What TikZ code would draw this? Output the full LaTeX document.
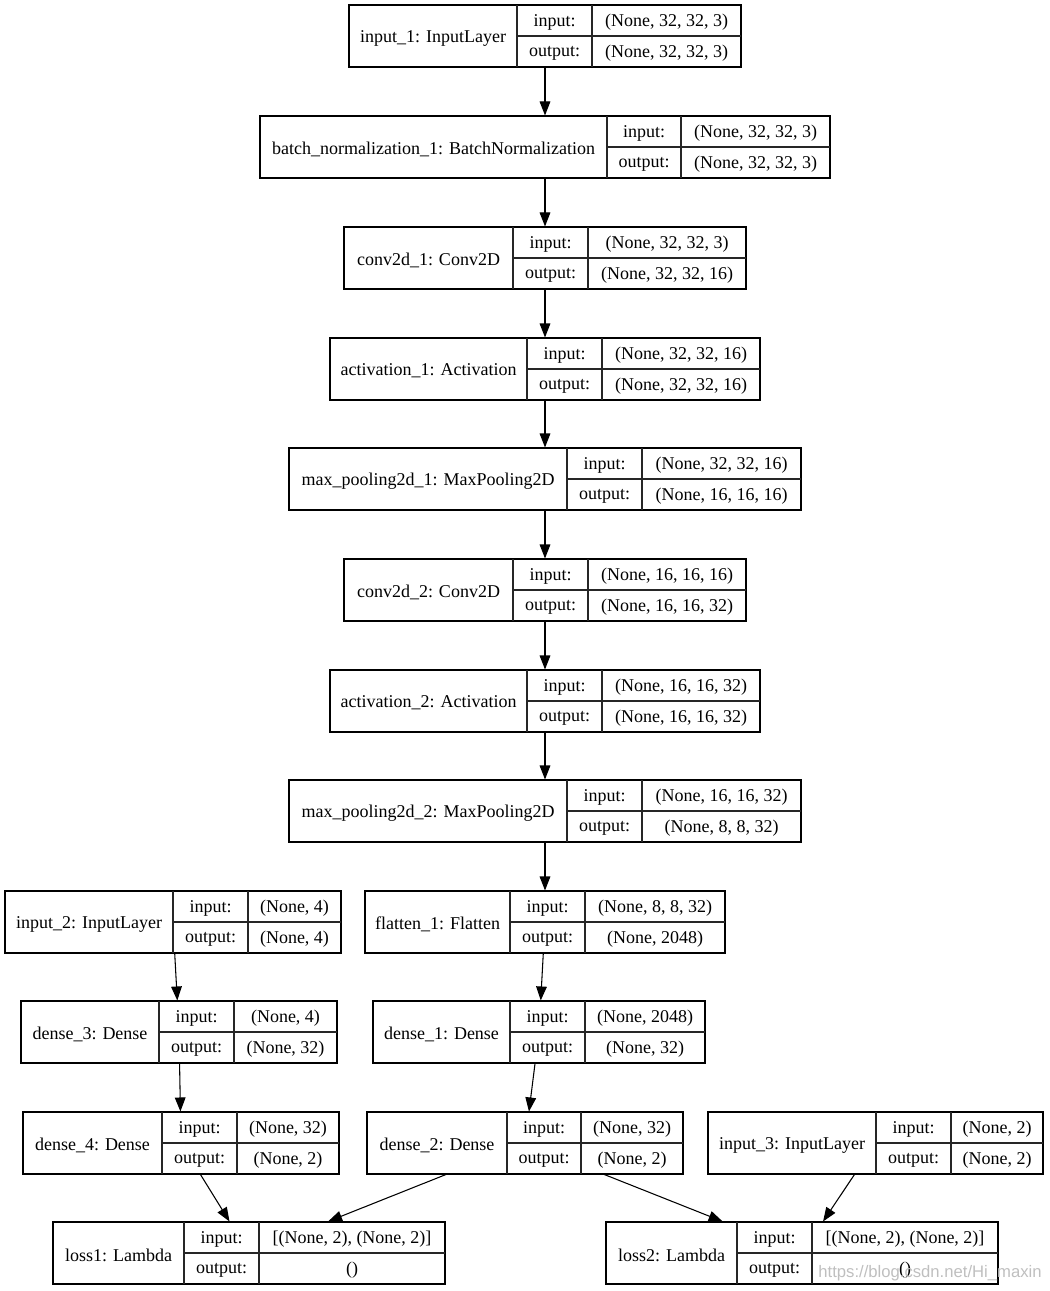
\documentclass[tikz,border=0pt]{standalone}
\usepackage{fontspec}
\setmainfont{Liberation Serif}
\newfontfamily\wmfont{Liberation Sans}
\usetikzlibrary{arrows.meta, fit}

% one Keras layer: name, left, top, first divider, second divider, right, label, input shape, output shape
\newcommand{\kerasLayer}[9]{%
    \node[layerbox, fit={({#2},{#3}) ({#6},{#3+62})}] (#1) {};
    \draw[cellline] ({#4},{#3}) -- ({#4},{#3+62});
    \draw[cellline] ({#5},{#3}) -- ({#5},{#3+62});
    \draw[cellline] ({#4},{#3+31}) -- ({#6},{#3+31});
    \node[txt] (#1-lbl) at ({(#2+#4)/2},{#3+33}) {#7};
    \node[txt] (#1-in) at ({(#4+#5)/2},{#3+17}) {input:};
    \node[txt] (#1-out) at ({(#4+#5)/2},{#3+48}) {output:};
    \node[txt] (#1-inv) at ({(#5+#6)/2},{#3+17}) {#8};
    \node[txt] (#1-outv) at ({(#5+#6)/2},{#3+48}) {#9};
}

\begin{document}
\begin{tikzpicture}[
        x=0.75pt, y=-0.75pt,
        layerbox/.style={draw, line width=0.8pt, inner sep=0pt},
        cellline/.style={line width=0.8pt, black!85},
        txt/.style={inner sep=0pt, font=\fontsize{13.5}{16}\selectfont},
        conn/.style={line width=0.8pt, -{Triangle[length=10.5pt, width=8pt]}},
        watermark/.style={inner sep=0pt, text=black!25, font=\wmfont\fontsize{12.5}{15}\selectfont}
    ]
        \useasboundingbox (0,0) rectangle (1049,1291);

        % Main column
        \kerasLayer{input1}{349}{5}{517}{592}{741}{input\_1: InputLayer}{(None, 32, 32, 3)}{(None, 32, 32, 3)}
        \kerasLayer{batchnorm}{260}{116}{607}{681}{830}{batch\_normalization\_1: BatchNormalization}{(None, 32, 32, 3)}{(None, 32, 32, 3)}
        \kerasLayer{conv1}{344}{227}{513}{588}{746}{conv2d\_1: Conv2D}{(None, 32, 32, 3)}{(None, 32, 32, 16)}
        \kerasLayer{act1}{330}{338}{527}{602}{760}{activation\_1: Activation}{(None, 32, 32, 16)}{(None, 32, 32, 16)}
        \kerasLayer{pool1}{289}{448}{567}{642}{801}{max\_pooling2d\_1: MaxPooling2D}{(None, 32, 32, 16)}{(None, 16, 16, 16)}
        \kerasLayer{conv2}{344}{559}{513}{588}{746}{conv2d\_2: Conv2D}{(None, 16, 16, 16)}{(None, 16, 16, 32)}
        \kerasLayer{act2}{330}{670}{527}{602}{760}{activation\_2: Activation}{(None, 16, 16, 32)}{(None, 16, 16, 32)}
        \kerasLayer{pool2}{289}{780}{567}{642}{801}{max\_pooling2d\_2: MaxPooling2D}{(None, 16, 16, 32)}{(None, 8, 8, 32)}
        \kerasLayer{flatten}{365}{891}{510}{585}{725}{flatten\_1: Flatten}{(None, 8, 8, 32)}{(None, 2048)}
        \kerasLayer{dense1}{373}{1001}{510}{585}{705}{dense\_1: Dense}{(None, 2048)}{(None, 32)}
        \kerasLayer{dense2}{367}{1112}{507}{581}{683}{dense\_2: Dense}{(None, 32)}{(None, 2)}

        % Second input
        \kerasLayer{input2}{5}{891}{173}{248}{341}{input\_2: InputLayer}{(None, 4)}{(None, 4)}
        \kerasLayer{dense3}{21}{1001}{159}{234}{337}{dense\_3: Dense}{(None, 4)}{(None, 32)}
        \kerasLayer{dense4}{23}{1112}{162}{237}{339}{dense\_4: Dense}{(None, 32)}{(None, 2)}

        % Third input
        \kerasLayer{input3}{708}{1112}{876}{951}{1043}{input\_3: InputLayer}{(None, 2)}{(None, 2)}

        % Losses
        \kerasLayer{loss1}{53}{1222}{184}{259}{445}{loss1: Lambda}{[(None, 2), (None, 2)]}{()}
        \kerasLayer{loss2}{606}{1222}{737}{812}{998}{loss2: Lambda}{[(None, 2), (None, 2)]}{()}

        % Connections
        \draw[conn] (input1) -- (batchnorm);
        \draw[conn] (batchnorm) -- (conv1);
        \draw[conn] (conv1) -- (act1);
        \draw[conn] (act1) -- (pool1);
        \draw[conn] (pool1) -- (conv2);
        \draw[conn] (conv2) -- (act2);
        \draw[conn] (act2) -- (pool2);
        \draw[conn] (pool2) -- (flatten);
        \draw[conn] (flatten) -- (dense1);
        \draw[conn] (dense1) -- (dense2);
        \draw[conn] (input2) -- (dense3);
        \draw[conn] (dense3) -- (dense4);
        \draw[conn] (dense4) -- (loss1);
        \draw[conn] (dense2) -- (loss1);
        \draw[conn] (dense2) -- (loss2);
        \draw[conn] (input3) -- (loss2);

        \node[watermark] (wm) at (930,1273) {https://blog.csdn.net/Hi\_maxin};
    \end{tikzpicture}
\end{document}
